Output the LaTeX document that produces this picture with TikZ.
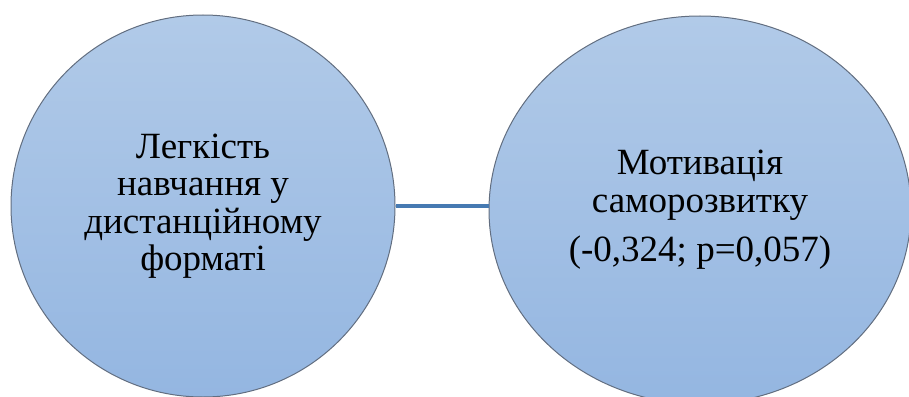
\documentclass[tikz,border=0pt]{standalone}
\usepackage{fontspec}
\setmainfont{Liberation Serif}
\newfontfamily\ovalfont{Liberation Serif}
\usetikzlibrary{shapes.geometric}
\definecolor{ovaltop}{RGB}{177,202,232}
\definecolor{ovalbot}{RGB}{148,182,225}
\definecolor{ovalrim}{RGB}{98,110,128}
\definecolor{linkblue}{RGB}{70,122,178}
\begin{document}
\begin{tikzpicture}[x=1pt, y=-1pt, font=\ovalfont\fontsize{37}{37.5}\selectfont, line join=round,
	oval/.style={ellipse, draw=ovalrim, line width=1pt, top color=ovaltop, bottom color=ovalbot, align=center, inner sep=0pt},
	link/.style={draw=linkblue, line width=3.5pt}]
		\useasboundingbox (0,0) rectangle (909,396);
		\clip (0,0) rectangle (909,396);
		\node[oval, minimum width=384pt, minimum height=382pt] (ease) at (203,206)
			{Легкість\\навчання у\\дистанційному\\форматі};
		\node[oval, minimum width=422pt, minimum height=388pt] (motiv) at (700,210)
			{Мотивація\\саморозвитку\\[12pt](-0,324; p=0,057)};
		\draw[link] (ease.east) -- (motiv.west |- ease.east);
		\end{tikzpicture}
\end{document}
